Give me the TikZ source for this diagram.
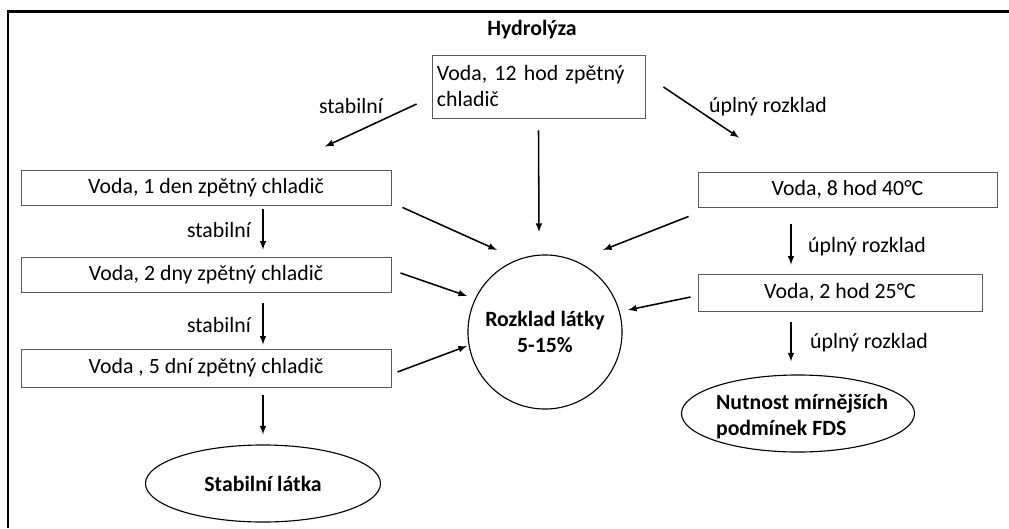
\documentclass[tikz,border=0pt]{standalone}
\usepackage{fontspec}
\setmainfont{Carlito}
\usepackage{tikz}
\usetikzlibrary{arrows}
\usetikzlibrary{shapes.geometric}
\definecolor{boxline}{HTML}{5A5A5A}

\tikzset{
  box/.style={draw=boxline, line width=0.6pt, inner sep=0pt, minimum height=0.875cm},
  arr/.style={black, line width=1.1pt, -latex},
  lbl/.style={inner sep=0pt},
  bold/.style={font=\fontsize{15.5}{18.5}\selectfont\bfseries, inner sep=0pt}
}

\begin{document}
\begin{tikzpicture}[x=0.025cm, y=-0.025cm, font=\fontsize{15.5}{18.5}\selectfont]
  \useasboundingbox (0,0) rectangle (1009,528);
  % frame
  \draw[line width=1.6pt] (8,528) -- (8,11.5) -- (1009,11.5);
  \node[bold] (title) at (532,30) {Hydrolýza};
  \node[box, minimum width=5.325cm, minimum height=1.575cm, text width=5.075cm, align=left] (top) at (538.5,86.5) {Voda, 12 hod zpětný\\chladič};
  % left branch
  \node[box, minimum width=9.25cm] (l1) at (206,187.5) {Voda, 1 den zpětný chladič};
  \node[box, minimum width=9.25cm] (l2) at (206,274.5) {Voda, 2 dny zpětný chladič};
  \node[box, minimum width=9.25cm, minimum height=0.95cm] (l3) at (206,368) {Voda , 5 dní zpětný chladič};
  \node[draw, ellipse, line width=0.8pt, minimum width=5.875cm, minimum height=1.925cm, bold] (stab) at (263,483.5) {Stabilní látka};
  % right branch
  \node[box, minimum width=7.475cm] (r1) at (847.5,189.5) {Voda, 8 hod 40°C};
  \node[box, minimum width=7.1cm, minimum height=0.925cm] (r2) at (840,292.5) {Voda, 2 hod 25°C};
  \node[draw, ellipse, line width=0.8pt, minimum width=5.825cm, minimum height=1.925cm,
        label={[bold, align=left, shift={(4,3)}]center:Nutnost mírnějších\\podmínek FDS}] (nut) at (798,413.5) {};
  % middle
  \node[draw, circle, line width=0.8pt, minimum size=3.85cm, align=center, bold] (circ) at (545,332) {Rozklad látky\\5-15\%};

  \draw[arr] ([shift={(-15,17.5)}]top.west) -- ([shift={(119,-23)}]l1.north);
  \draw[arr] ([shift={(18,0.5)}]top.east) -- ([shift={(-108.5,-34)}]r1.north);
  \draw[arr] ([shift={(0,12)}]top.south) -- ([shift={(-6,-100)}]circ.center);
  \draw[arr] ([shift={(57,4)}]l1.south) -- ([shift={(57,-7)}]l2.north);
  \draw[arr] ([shift={(57,11)}]l2.south) -- ([shift={(57,-4)}]l3.north);
  \draw[arr] ([shift={(57,8)}]l3.south) -- ([shift={(0,-10)}]stab.north);
  \draw[arr] ([shift={(-56.5,17)}]r1.south) -- ([shift={(-49,-9)}]r2.north);
  \draw[arr] ([shift={(-49,11)}]r2.south) -- ([shift={(-7,-13)}]nut.north);
  \foreach \src/\sx/\sy/\ex/\ey in {l1.south east/11/2/-48/-82, l2.east/9/-1.5/-78/-36, l3.east/6/4/-78/14, r1.south west/-9/9/58/-82, r2.west/-7/4.5/83/-22}
    \draw[arr] ([shift={(\sx,\sy)}]\src) -- ([shift={(\ex,\ey)}]circ.center);

  \node[lbl] (s1) at (351,106) {stabilní};
  \node[lbl] (s2) at (219,230) {stabilní};
  \node[lbl] (s3) at (219,325) {stabilní};
  \node[lbl] (u1) at (768,107) {úplný rozklad};
  \node[lbl] (u2) at (867,247) {úplný rozklad};
  \node[lbl] (u3) at (869,343) {úplný rozklad};
\end{tikzpicture}
\end{document}
